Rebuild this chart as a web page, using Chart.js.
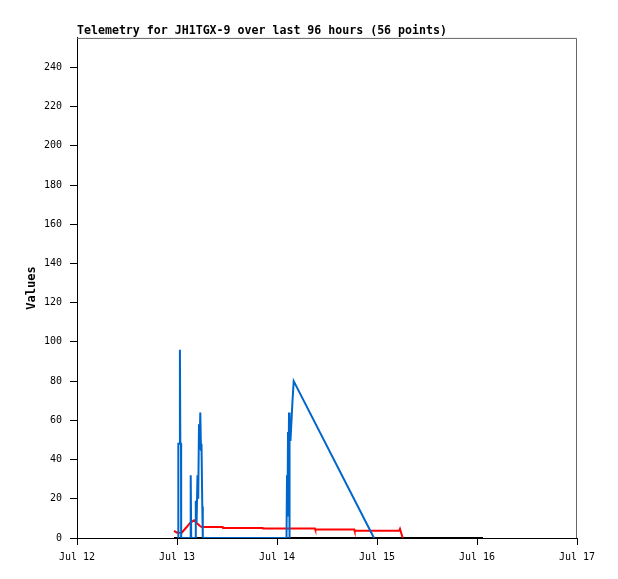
<!DOCTYPE html>
<html lang="en">
<head>
    <meta charset="UTF-8">
    <title>Telemetry for JH1TGX-9</title>
    <script src="https://cdn.jsdelivr.net/npm/chart.js@4.4.0/dist/chart.umd.min.js"></script>
    <style>
        body { margin: 0; background: #fff; }
        canvas { display: block; }
    </style>
</head>
<body>
    <canvas id="telemetry" width="618" height="579"></canvas>

    <script>
        // hours counted from Jul 12 00:00
        const xTickLabels = ['Jul 12', 'Jul 13', 'Jul 14', 'Jul 15', 'Jul 16', 'Jul 17'];

        const blueHours = [24.24, 24.32, 24.62, 24.70, 24.80, 24.96, 25.00,
            27.17, 27.29, 27.41,
            28.42, 28.51, 28.70, 28.92, 29.09, 29.28, 29.42, 29.59, 29.76, 29.88, 30.07, 30.19,
            50.28, 50.40, 50.52, 50.64, 50.76, 50.88, 50.95, 51.07, 51.24, 51.72, 52.01, 71.28];
        const blueValues = [0, 48, 48, 96, 48, 48, 0,
            0, 32, 0,
            0, 19, 8, 32, 20, 58, 45, 64, 45, 48, 16, 0,
            0, 32, 11, 54, 30, 64, 0, 50, 50, 70, 80, 0];

        const redHours = [23.28, 24.00, 25.13, 26.33, 27.12, 28.08, 28.73, 29.52, 29.93,
            34.97, 35.05, 44.57, 44.65, 57.12, 57.20, 66.55, 66.63, 77.35, 77.52, 78.17];
        const redValues = [3.6, 2.7, 2.7, 5.6, 7.7, 9, 7.7, 6.1, 5.6,
            5.6, 5.1, 5.1, 4.8, 4.8, 4.3, 4.3, 3.7, 3.7, 4.6, 0];

        const blackHours = [23.28, 97.44];
        const blackValues = [0, 0];

        const toPoints = (xs, ys) => xs.map((x, i) => ({ x: x, y: ys[i] }));

        // gray frame on top and right of the plot box
        const frame = {
            id: 'frame',
            beforeDatasetsDraw(chart) {
                const a = chart.chartArea;
                const ctx = chart.ctx;
                ctx.save();
                ctx.strokeStyle = '#666';
                ctx.lineWidth = 1;
                ctx.beginPath();
                ctx.moveTo(a.left, a.top + 0.5);
                ctx.lineTo(a.right - 0.5, a.top + 0.5);
                ctx.lineTo(a.right - 0.5, a.bottom);
                ctx.stroke();
                ctx.restore();
            }
        };

        const tickFont = { family: 'DejaVu Sans Mono', size: 10 };

        new Chart(document.getElementById('telemetry'), {
            type: 'line',
            data: {
                datasets: [{
                    data: toPoints(blueHours, blueValues),
                    borderColor: '#0066cc',
                    borderWidth: 2
                }, {
                    data: toPoints(redHours, redValues),
                    borderColor: '#ff0000',
                    borderWidth: 2
                }, {
                    data: toPoints(blackHours, blackValues),
                    borderColor: '#000000',
                    borderWidth: 2
                }]
            },
            options: {
                responsive: false,
                animation: false,
                layout: { padding: { left: 0, right: 41, top: 0, bottom: 0 } },
                elements: { point: { radius: 0 }, line: { tension: 0 } },
                plugins: {
                    legend: { display: false },
                    tooltip: { enabled: false },
                    title: {
                        display: true,
                        text: 'Telemetry for JH1TGX-9 over last 96 hours (56 points)',
                        align: 'start',
                        fullSize: false,
                        color: '#000',
                        font: { family: 'DejaVu Sans Mono', size: 11.6, weight: 'bold' },
                        padding: { top: 24, bottom: 0 }
                    }
                },
                scales: {
                    x: {
                        type: 'linear',
                        min: 0,
                        max: 120,
                        afterFit: s => { s.height = 41; },
                        border: { display: true, color: '#000' },
                        grid: { display: true, drawOnChartArea: false, drawTicks: true, tickLength: 7, color: '#000' },
                        ticks: {
                            stepSize: 24,
                            color: '#000',
                            font: tickFont,
                            padding: 6,
                            maxRotation: 0,
                            callback: v => xTickLabels[v / 24]
                        }
                    },
                    y: {
                        min: 0,
                        max: 255,
                        afterFit: s => { s.width = 77; },
                        afterBuildTicks: s => { s.ticks = s.ticks.filter(t => t.value % 20 === 0); },
                        border: { display: true, color: '#000' },
                        grid: { display: true, drawOnChartArea: false, drawTicks: true, tickLength: 7, color: '#000' },
                        ticks: {
                            stepSize: 20,
                            color: '#000',
                            font: tickFont,
                            padding: 8
                        },
                        title: {
                            display: true,
                            text: 'Values',
                            color: '#000',
                            font: { family: 'DejaVu Sans Mono', size: 12, weight: 'bold' },
                            padding: { top: 25, bottom: 0 }
                        }
                    }
                }
            },
            plugins: [frame]
        });
    </script>
</body>
</html>
